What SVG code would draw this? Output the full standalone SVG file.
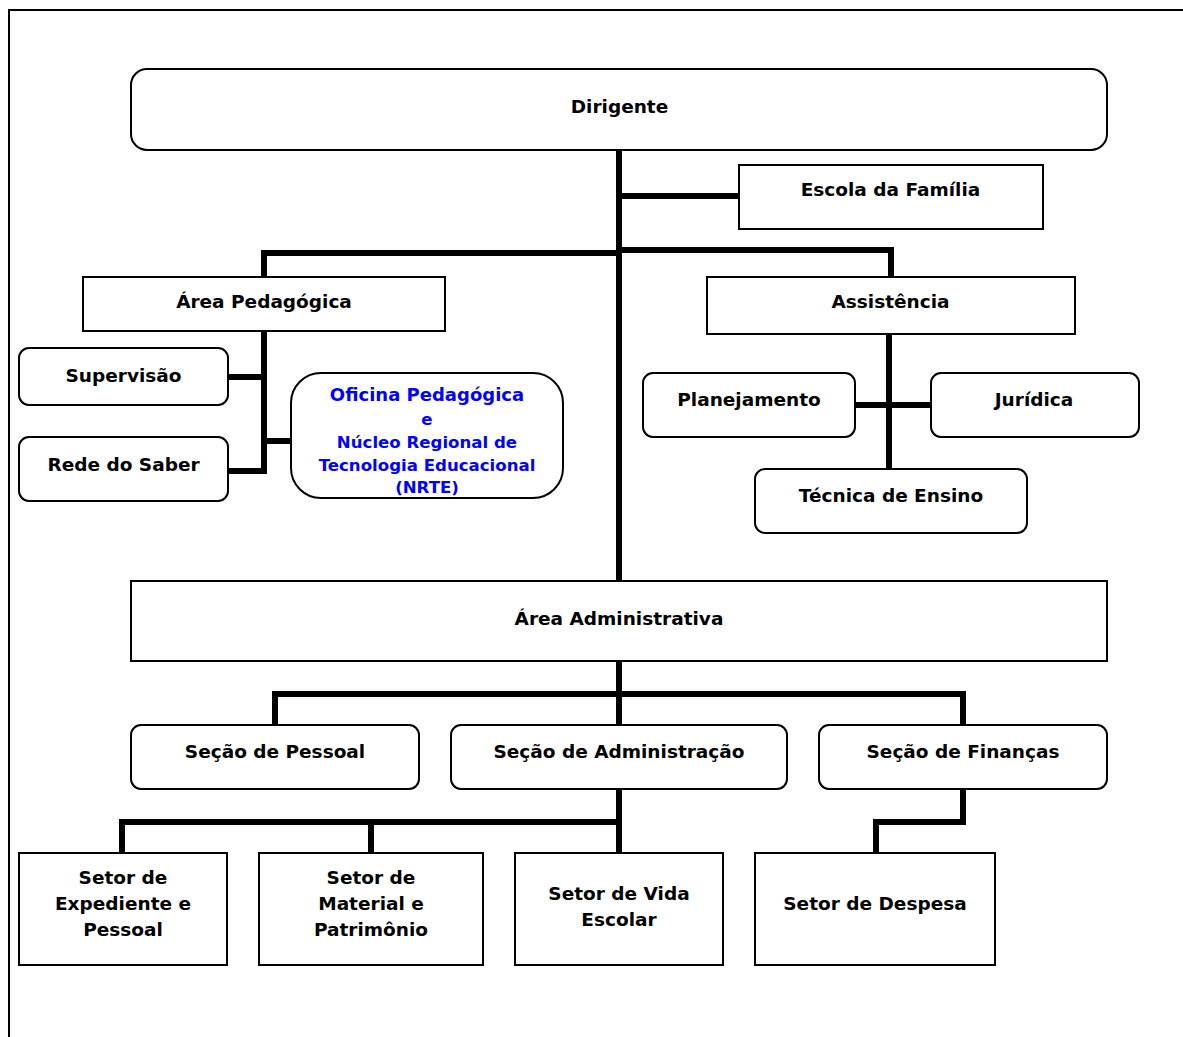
<svg xmlns="http://www.w3.org/2000/svg" width="1183" height="1037" viewBox="0 0 1183 1037">
<style>
.b{fill:#fff;stroke:#000;stroke-width:2}
.t{font-family:"DejaVu Sans","Liberation Sans",sans-serif;font-weight:bold;font-size:18.5px;fill:#000;text-anchor:middle}
.bl{fill:#0000ff;font-size:16.6px}
.c{fill:none;stroke:#000;stroke-width:6;stroke-linecap:butt;stroke-linejoin:miter}
</style>
<rect x="0" y="0" width="1183" height="1037" fill="#fff"/>
<rect x="9" y="10" width="1200" height="1100" fill="none" stroke="#000" stroke-width="2"/>
<g id="connectors">
<path class="c" d="M619 150V581"/>
<path class="c" d="M619 196H739"/>
<path class="c" d="M619 253H264V277"/>
<path class="c" d="M619 250H891V277"/>
<path class="c" d="M264 331V471H228"/>
<path class="c" d="M228 377H264"/>
<path class="c" d="M264 441H291"/>
<path class="c" d="M889 335V469"/>
<path class="c" d="M855 405H931"/>
<path class="c" d="M619 661V725"/>
<path class="c" d="M275 725V694H963V725"/>
<path class="c" d="M619 789V853"/>
<path class="c" d="M619 822H122V853"/>
<path class="c" d="M371 822V853"/>
<path class="c" d="M963 789V822H876V853"/>
</g>
<g id="dirigente"><rect class="b" x="131" y="69" width="976" height="81" rx="16"/><text class="t" x="619.5" y="113">Dirigente</text></g>
<g id="escola"><rect class="b" x="739" y="165" width="304" height="64"/><text class="t" x="890.5" y="196">Escola da Família</text></g>
<g id="area-pedagogica"><rect class="b" x="83" y="277" width="362" height="54"/><text class="t" x="264" y="308">Área Pedagógica</text></g>
<g id="assistencia"><rect class="b" x="707" y="277" width="368" height="57"/><text class="t" x="890.5" y="308">Assistência</text></g>
<g id="supervisao"><rect class="b" x="19" y="348" width="209" height="57" rx="10"/><text class="t" x="123.5" y="382">Supervisão</text></g>
<g id="rede"><rect class="b" x="19" y="437" width="209" height="64" rx="10"/><text class="t" x="123.5" y="471">Rede do Saber</text></g>
<g id="oficina"><rect class="b" x="291" y="373" width="272" height="125" rx="30"/>
<text class="t bl" x="427" y="401" style="font-size:18px">Oficina Pedagógica</text>
<text class="t bl" x="427" y="425">e</text>
<text class="t bl" x="427" y="448">Núcleo Regional de</text>
<text class="t bl" x="427" y="471">Tecnologia Educacional</text>
<text class="t bl" x="427" y="493">(NRTE)</text></g>
<g id="planejamento"><rect class="b" x="643" y="373" width="212" height="64" rx="10"/><text class="t" x="749" y="406">Planejamento</text></g>
<g id="juridica"><rect class="b" x="931" y="373" width="208" height="64" rx="10"/><text class="t" x="1034" y="406">Jurídica</text></g>
<g id="tecnica"><rect class="b" x="755" y="469" width="272" height="64" rx="10"/><text class="t" x="891" y="502">Técnica de Ensino</text></g>
<g id="area-administrativa"><rect class="b" x="131" y="581" width="976" height="80"/><text class="t" x="619" y="625">Área Administrativa</text></g>
<g id="secao-pessoal"><rect class="b" x="131" y="725" width="288" height="64" rx="10"/><text class="t" x="275" y="758">Seção de Pessoal</text></g>
<g id="secao-administracao"><rect class="b" x="451" y="725" width="336" height="64" rx="10"/><text class="t" x="619" y="758">Seção de Administração</text></g>
<g id="secao-financas"><rect class="b" x="819" y="725" width="288" height="64" rx="10"/><text class="t" x="963" y="758">Seção de Finanças</text></g>
<g id="setor-expediente"><rect class="b" x="19" y="853" width="208" height="112"/>
<text class="t" x="123" y="884">Setor de</text><text class="t" x="123" y="910">Expediente e</text><text class="t" x="123" y="936">Pessoal</text></g>
<g id="setor-material"><rect class="b" x="259" y="853" width="224" height="112"/>
<text class="t" x="371" y="884">Setor de</text><text class="t" x="371" y="910">Material e</text><text class="t" x="371" y="936">Patrimônio</text></g>
<g id="setor-vida"><rect class="b" x="515" y="853" width="208" height="112"/>
<text class="t" x="619" y="900">Setor de Vida</text><text class="t" x="619" y="926">Escolar</text></g>
<g id="setor-despesa"><rect class="b" x="755" y="853" width="240" height="112"/>
<text class="t" x="875" y="910">Setor de Despesa</text></g>
</svg>
